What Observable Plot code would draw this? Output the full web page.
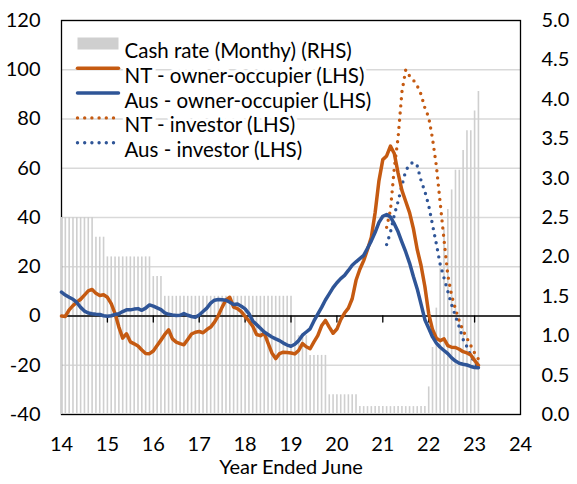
<!DOCTYPE html>
<html><head><meta charset="utf-8">
<script src="https://cdn.jsdelivr.net/npm/d3@7"></script>
<script src="https://cdn.jsdelivr.net/npm/@observablehq/plot@0.6"></script>
<style>html,body{margin:0;padding:0;background:#fff}#chart svg{display:block}</style>
</head><body><div id="chart"></div>
<script>
// Monthly observations, first value = x 14.0 on the "Year Ended June" axis
const cashRate = [
  2.5,2.5,2.5,2.5,2.5,2.5,2.5,2.5,2.5,
  2.25,2.25,2.25,
  2,2,2,2,2,2,2,2,2,2,2,2,
  1.75,1.75,1.75,
  1.5,1.5,1.5,1.5,1.5,1.5,1.5,1.5,1.5,1.5,1.5,1.5,1.5,1.5,1.5,1.5,1.5,
  1.5,1.5,1.5,1.5,1.5,1.5,1.5,1.5,1.5,1.5,1.5,1.5,1.5,1.5,1.5,1.5,1.5,
  1.25,
  1,1,1,
  0.75,0.75,0.75,0.75,0.75,
  0.25,0.25,0.25,0.25,0.25,0.25,0.25,0.25,
  0.1,0.1,0.1,0.1,0.1,0.1,0.1,0.1,0.1,0.1,0.1,0.1,0.1,0.1,0.1,0.1,0.1,0.1,
  0.35,0.85,1.35,1.85,2.35,2.6,2.85,3.1,3.1,3.35,3.6,3.6,3.85,4.1
];
const ntOwner = [
  0.0,-0.2,2.5,4.2,5.6,6.8,8.5,10.2,10.8,9.2,
  8.3,8.6,7.6,5.0,1.0,-4.5,-9.0,-7.2,-10.5,-11.3,
  -12.2,-13.8,-15.2,-15.3,-14.2,-12.0,-9.8,-7.5,-5.6,-9.3,
  -10.6,-11.2,-11.7,-9.5,-7.3,-6.6,-6.3,-6.8,-5.5,-4.5,
  -2.5,0.2,3.6,6.5,7.6,3.6,3.0,1.8,-0.2,-2.0,
  -4.2,-7.5,-8.0,-7.0,-11.0,-15.0,-17.3,-15.3,-14.7,-14.8,
  -15.0,-15.4,-14.0,-11.2,-12.5,-13.3,-10.5,-8.0,-4.0,-1.8,
  -4.5,-7.0,-5.3,-1.5,1.2,3.2,7.0,14.5,19.0,22.5,
  27.0,32.0,42.0,55.0,63.5,65.0,69.0,66.0,58.0,51.0,
  46.5,42.0,35.5,27.0,20.5,12.0,1.0,-5.5,-9.0,-10.0,
  -9.3,-12.0,-12.7,-12.8,-13.5,-14.5,-15.0,-15.8,-18.0,-20.0
];
const ausOwner = [
  9.7,8.5,7.6,6.8,5.5,3.5,2.0,1.2,0.9,0.7,
  0.6,0.1,-0.1,0.1,0.6,0.9,1.8,2.5,2.5,2.8,
  3.0,2.3,3.2,4.5,4.0,3.3,2.6,1.3,0.7,0.4,
  0.2,0.3,1.0,0.3,-0.2,-0.5,0.4,1.8,3.2,5.2,
  6.4,6.7,6.6,6.4,5.6,4.7,4.9,4.0,2.9,1.0,
  -2.0,-3.5,-5.0,-6.5,-7.5,-8.5,-9.3,-10.0,-11.0,-11.8,
  -12.3,-11.5,-10.0,-7.8,-6.5,-5.2,-2.0,0.8,3.5,6.5,
  9.0,11.5,13.5,15.2,16.5,18.5,20.6,22.0,23.3,24.6,
  27.5,30.5,34.0,38.0,40.5,41.2,40.2,37.5,34.2,30.0,
  26.0,21.5,16.0,11.0,4.8,-1.5,-5.0,-8.5,-11.0,-12.7,
  -14.0,-15.3,-17.0,-18.3,-19.2,-19.6,-19.9,-20.5,-20.9,-21.0
];
const investorStart = 85; // month index of first investor observation
const ntInvestor = [
  36.0,43.0,60.0,72.5,91.0,100.0,97.5,95.8,93.5,90.0,
  84.5,80.7,72.0,61.0,46.0,31.0,16.5,8.3,2.8,-2.0,
  -6.0,-9.0,-12.0,-15.0,-17.5
];
const ausInvestor = [
  29.0,34.0,41.0,46.5,53.0,59.0,61.5,62.5,61.0,55.0,
  50.6,44.9,37.0,29.3,21.0,15.5,10.0,4.5,0.0,-4.5,
  -9.5,-12.5,-16.0,-19.0,-21.0
];
const leftTicks = [-40,-20,0,20,40,60,80,100,120];
const rightTicks = [0,0.5,1,1.5,2,2.5,3,3.5,4,4.5,5];
const xTicks = [14,15,16,17,18,19,20,21,22,23,24];
const xTitle = "Year Ended June";
const legendLabels = [
  "Cash rate (Monthy) (RHS)",
  "NT - owner-occupier (LHS)",
  "Aus - owner-occupier (LHS)",
  "NT - investor (LHS)",
  "Aus - investor (LHS)"
];

const ORANGE = "#C55A11", BLUE = "#2F5597", BARGRAY = "#cfcfcf";
const monthX = i => xTicks[0] + i / 12;
const rateToLeft = r => -40 + 32 * r;   // RHS 0–5 spans LHS -40–120

const bars = cashRate.map((r, i) => ({x: monthX(i), v: rateToLeft(r)}));
const series = (arr, start) => arr.map((v, i) => ({x: monthX(start + i), v}));
const lineShape = {draw(ctx, l) { ctx.moveTo(0, 0); ctx.lineTo(0, -l); }};

const rowDy = i => 23 + i * 24.8;
const swatchStyles = [
  {stroke: BARGRAY, strokeWidth: 12, strokeLinecap: "butt"},
  {stroke: ORANGE, strokeWidth: 3.5},
  {stroke: BLUE, strokeWidth: 3.5},
  {stroke: ORANGE, strokeWidth: 3.4, strokeDasharray: "0 7.2", strokeLinecap: "round"},
  {stroke: BLUE, strokeWidth: 3.4, strokeDasharray: "0 7.2", strokeLinecap: "round"}
];
const legendMarks = legendLabels.flatMap((label, i) => [
  Plot.vector([label], {frameAnchor: "top-left", dx: 16, dy: rowDy(i), length: 41, rotate: 90,
    anchor: "start", shape: lineShape, ...swatchStyles[i]}),
  Plot.text([label], {frameAnchor: "top-left", dx: 63, dy: rowDy(i), textAnchor: "start",
    fontSize: 20.5, fill: "#000", stroke: "white", strokeWidth: 7})
]);

const chart = Plot.plot({
  width: 577, height: 484,
  marginLeft: 61, marginRight: 57, marginTop: 20, marginBottom: 70,
  style: {fontFamily: "Lato, 'Open Sans', sans-serif", fontSize: "20px", color: "#000", background: "white"},
  x: {domain: [14, 24], axis: null},
  y: {domain: [-40, 120], axis: null},
  marks: [
    Plot.gridY(leftTicks, {stroke: "#d9d9d9", strokeOpacity: 1, strokeWidth: 1.3}),
    Plot.frame({stroke: "black", strokeWidth: 1.3}),
    Plot.ruleX(bars, {x: "x", y1: -40, y2: "v", stroke: BARGRAY, strokeWidth: 1.6}),
    Plot.ruleY([0], {stroke: "black", strokeWidth: 1.3}),
    Plot.vector(xTicks.slice(1, -1), {x: d => d, y: 0, length: 6, rotate: 180, anchor: "start",
      shape: lineShape, stroke: "black", strokeWidth: 1.3}),
    Plot.line(series(ntInvestor, investorStart), {x: "x", y: "v", stroke: ORANGE, strokeWidth: 3.4,
      strokeDasharray: "0 7.2", strokeLinecap: "round"}),
    Plot.line(series(ausInvestor, investorStart), {x: "x", y: "v", stroke: BLUE, strokeWidth: 3.4,
      strokeDasharray: "0 7.2", strokeLinecap: "round"}),
    Plot.line(series(ntOwner, 0), {x: "x", y: "v", stroke: ORANGE, strokeWidth: 3.5}),
    Plot.line(series(ausOwner, 0), {x: "x", y: "v", stroke: BLUE, strokeWidth: 3.5}),
    Plot.axisY(leftTicks, {anchor: "left", tickSize: 0, tickPadding: 21, tickFormat: d => String(d), label: null}),
    Plot.axisY(rightTicks.map(rateToLeft), {anchor: "right", tickSize: 0, tickPadding: 21,
      tickFormat: v => ((v + 40) / 32).toFixed(1), label: null}),
    Plot.axisX(xTicks, {anchor: "bottom", tickSize: 0, tickPadding: 22, tickFormat: d => String(d), label: null}),
    Plot.text([xTitle], {frameAnchor: "bottom", dy: 59, fill: "#000"}),
    ...legendMarks
  ]
});
document.getElementById("chart").appendChild(chart);
</script></body></html>
